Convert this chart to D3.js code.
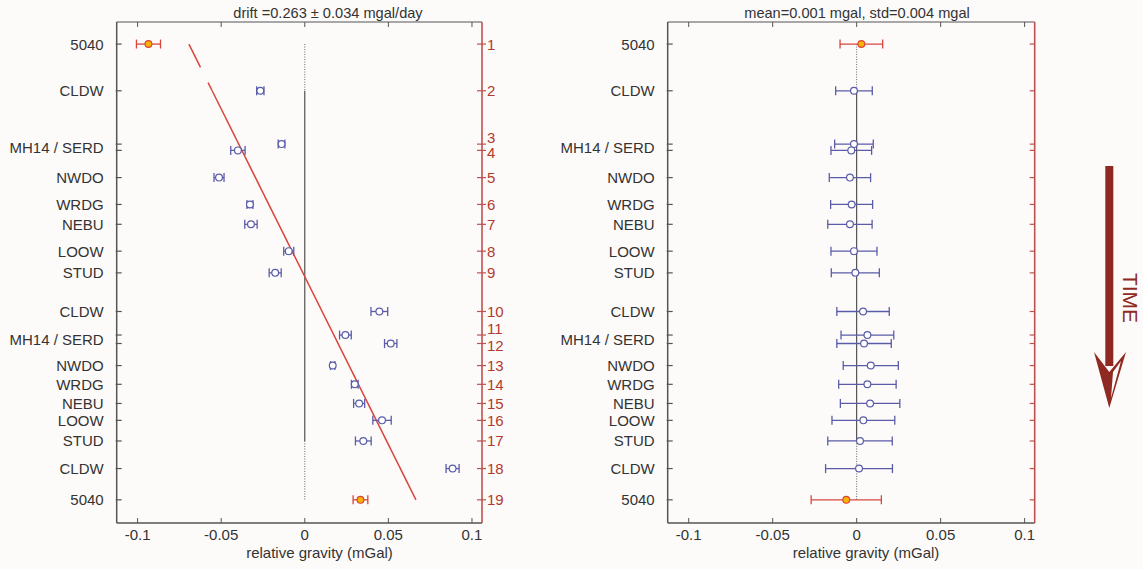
<!DOCTYPE html>
<html><head><meta charset="utf-8">
<script src="https://cdn.jsdelivr.net/npm/d3@7"></script>
<style>
html,body{margin:0;padding:0;background:#fdfbfa;}
svg{display:block;font-family:"Liberation Sans",Arial,sans-serif;}
</style></head>
<body><svg id="c" width="1143" height="569"></svg>
<script>
// ---- data ----
const stations = ["5040","CLDW","MH14","SERD","NWDO","WRDG","NEBU","LOOW","STUD","CLDW","MH14","SERD","NWDO","WRDG","NEBU","LOOW","STUD","CLDW","5040"];
const occupation = [1,2,3,4,5,6,7,8,9,10,11,12,13,14,15,16,17,18,19];
// observation time (hours since first reading)
const times = [0,1.27,2.72,2.89,3.63,4.36,4.90,5.63,6.22,7.27,7.91,8.14,8.74,9.25,9.77,10.23,10.79,11.54,12.39];
// left: raw relative gravity and its error (mGal)
const rawGravity = [-0.0935,-0.0266,-0.0139,-0.0400,-0.0513,-0.0328,-0.0322,-0.0096,-0.0177,0.0446,0.0243,0.0514,0.0167,0.0299,0.0325,0.0462,0.0350,0.0884,0.0333];
const rawError   = [0.0072,0.0022,0.0020,0.0043,0.0030,0.0018,0.0037,0.0030,0.0036,0.0050,0.0035,0.0037,0.0013,0.0020,0.0033,0.0055,0.0047,0.0039,0.0044];
// right: drift-corrected relative gravity and its error (mGal)
const corrGravity = [0.0028,-0.0016,-0.0016,-0.0032,-0.0040,-0.0030,-0.0040,-0.0016,-0.0008,0.0038,0.0064,0.0044,0.0084,0.0064,0.0080,0.0040,0.0020,0.0014,-0.0062];
const corrError   = [0.0127,0.0109,0.0115,0.0121,0.0123,0.0125,0.0132,0.0137,0.0143,0.0156,0.0157,0.0162,0.0164,0.0171,0.0177,0.0187,0.0192,0.0199,0.0209];
// drift line (fitted), points at occupations 1, 2 and 19
const driftTimes = [0,1.27,12.39];
const driftValues = [-0.0693,-0.0554,0.0665];
const baseStation = "5040";
const xTicks = [-0.1,-0.05,0,0.05,0.1];
const xTickLabels = ["-0.1","-0.05","0","0.05","0.1"];
const leftTitle = "drift =0.263 \u00b1 0.034 mgal/day";
const rightTitle = "mean=0.001 mgal, std=0.004 mgal";
const xLabel = "relative gravity (mGal)";

// ---- drawing ----
const svg = d3.select("#c");
const yTop = 22, yBottom = 523;
const y = d3.scaleLinear().domain([-0.6, 13.02]).range([yTop, yBottom]);
const blue = "#5a5ca8", red = "#d8463c", orange = "#f7b500", axisRed = "#c0504d", grey = "#555", txt = "#333", numRed = "#b23a2e";

const rows = stations.map((s,i)=>({s, n:occupation[i], t:times[i], raw:rawGravity[i], rawE:rawError[i], cor:corrGravity[i], corE:corrError[i]}));

// label groups (merge consecutive MH14/SERD)
const labelGroups = [];
for (let i=0;i<rows.length;i++){
  if (rows[i].s==="MH14" && rows[i+1] && rows[i+1].s==="SERD"){
    labelGroups.push({text:"MH14 / SERD", t:(rows[i].t+rows[i+1].t)/2}); i++;
  } else labelGroups.push({text:rows[i].s, t:rows[i].t});
}

function panel(x0, x1, key, keyE, title, titleX, labelX, showRightLabels, isLeft){
  const x = d3.scaleLinear().domain([-0.1125,0.106]).range([x0,x1]);
  const g = svg.append("g");
  // zero line
  const t1 = times[0], t2 = times[1], t17 = times[16], t19 = times[18];
  g.append("line").attr("x1",x(0)).attr("x2",x(0)).attr("y1",y(t1)).attr("y2",y(t2))
    .attr("stroke","#666").attr("stroke-width",1).attr("stroke-dasharray","1,1.5");
  g.append("line").attr("x1",x(0)).attr("x2",x(0)).attr("y1",y(t2)).attr("y2",y(t17))
    .attr("stroke","#444").attr("stroke-width",1.1);
  g.append("line").attr("x1",x(0)).attr("x2",x(0)).attr("y1",y(t17)).attr("y2",y(t19))
    .attr("stroke","#666").attr("stroke-width",1).attr("stroke-dasharray","1,1.5");

  if (isLeft){
    // drift line
    g.append("line").attr("x1",x(driftValues[0])).attr("y1",y(driftTimes[0]))
      .attr("x2",x(driftValues[1])).attr("y2",y(driftTimes[1]))
      .attr("stroke",red).attr("stroke-width",1.5).attr("stroke-dasharray","26,17");
    g.append("line").attr("x1",x(driftValues[1])).attr("y1",y(driftTimes[1]))
      .attr("x2",x(driftValues[2])).attr("y2",y(driftTimes[2]))
      .attr("stroke",red).attr("stroke-width",1.5);
  }

  // frame
  g.append("line").attr("x1",x0).attr("x2",x1).attr("y1",yTop).attr("y2",yTop).attr("stroke",grey).attr("stroke-width",1.2);
  g.append("line").attr("x1",x0).attr("x2",x1).attr("y1",yBottom).attr("y2",yBottom).attr("stroke",grey).attr("stroke-width",1.5);
  g.append("line").attr("x1",x0).attr("x2",x0).attr("y1",yTop).attr("y2",yBottom).attr("stroke",grey).attr("stroke-width",1.5);
  g.append("line").attr("x1",x1).attr("x2",x1).attr("y1",yTop).attr("y2",yBottom).attr("stroke",axisRed).attr("stroke-width",1.6);

  // x ticks top & bottom
  xTicks.forEach((v,i)=>{
    g.append("line").attr("x1",x(v)).attr("x2",x(v)).attr("y1",yTop).attr("y2",yTop+5).attr("stroke",grey);
    g.append("line").attr("x1",x(v)).attr("x2",x(v)).attr("y1",yBottom).attr("y2",yBottom-5).attr("stroke",grey);
    g.append("text").attr("x",x(v)).attr("y",540).attr("text-anchor","middle")
      .attr("font-size",15).attr("fill",txt).text(xTickLabels[i]);
  });
  g.append("text").attr("x",labelX).attr("y",558).attr("text-anchor","middle")
    .attr("font-size",15).attr("fill",txt).text(xLabel);
  g.append("text").attr("x",titleX).attr("y",18).attr("text-anchor","middle")
    .attr("font-size",14.6).attr("fill",txt).text(title);

  // y ticks
  rows.forEach((r,i)=>{
    g.append("line").attr("x1",x0-1).attr("x2",x0+5).attr("y1",y(r.t)).attr("y2",y(r.t)).attr("stroke",grey).attr("stroke-width",1.2);
    g.append("line").attr("x1",x1-5).attr("x2",x1+ (showRightLabels?4:0)).attr("y1",y(r.t)).attr("y2",y(r.t)).attr("stroke",axisRed).attr("stroke-width",1.2);
    if (showRightLabels){
      // nudge labels of rows that sit very close together
      let dy = 5.5;
      const prev = rows[i-1], next = rows[i+1];
      if (next && y(next.t)-y(r.t) < 12) dy = -1.5;
      else if (prev && y(r.t)-y(prev.t) < 12) dy = 7.5;
      g.append("text").attr("x",x1+5).attr("y",y(r.t)+dy).attr("font-size",15).attr("fill",numRed).text(r.n);
    }
  });
  labelGroups.forEach(l=>{
    g.append("text").attr("x",x0-13).attr("y",y(l.t)+5.5).attr("text-anchor","end")
      .attr("font-size",15).attr("fill",txt).text(l.text);
  });

  // error bars + markers
  rows.forEach(r=>{
    const c = r.s===baseStation ? red : blue;
    const v = r[key], e = r[keyE], yy = y(r.t);
    const cap = 4.5;
    g.append("line").attr("x1",x(v-e)).attr("x2",x(v+e)).attr("y1",yy).attr("y2",yy).attr("stroke",c).attr("stroke-width",1.3);
    [v-e,v+e].forEach(b=>g.append("line").attr("x1",x(b)).attr("x2",x(b)).attr("y1",yy-cap).attr("y2",yy+cap).attr("stroke",c).attr("stroke-width",1.3));
    g.append("circle").attr("cx",x(v)).attr("cy",yy).attr("r",3.4)
      .attr("fill", r.s===baseStation ? orange : "#fff").attr("stroke",c).attr("stroke-width",1.2);
  });
}

panel(116.7, 482, "raw", "rawE", leftTitle, 328, 319.5, true, true);
panel(667.7, 1034.7, "cor", "corE", rightTitle, 857, 866, false, false);

// TIME arrow
const ar = "#8e2a22";
const ag = svg.append("g");
ag.append("rect").attr("x",1105.3).attr("y",166).attr("width",8).attr("height",200).attr("fill",ar);
ag.append("path").attr("d","M1094,352 L1109.3,372 L1126,352 L1109.3,408 Z").attr("fill",ar);
ag.append("path").attr("d","M1113,372 L1121,361 L1111,398 Z").attr("fill","#fdfbfa");
ag.append("text").attr("transform","translate(1123,298) rotate(90)").attr("text-anchor","middle")
  .attr("font-size",21).attr("fill",ar).text("TIME");
</script></body></html>
